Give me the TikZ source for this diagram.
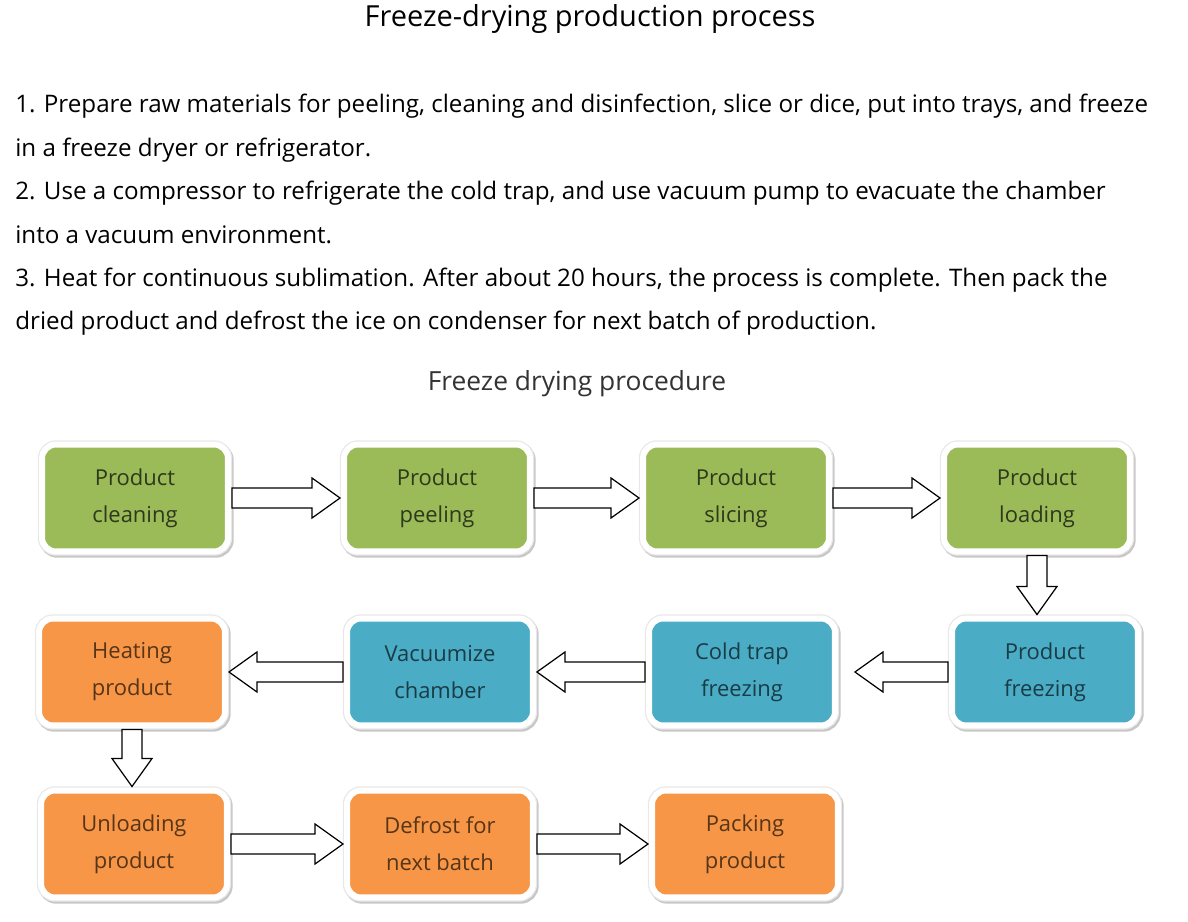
\documentclass[tikz,border=0pt]{standalone}
\usepackage{fontspec}
\setmainfont{Open Sans}
\usetikzlibrary{calc}

\definecolor{stepgreen}{HTML}{9BBB59}
\definecolor{stepblue}{HTML}{4BACC6}
\definecolor{steporange}{HTML}{F79646}

\begin{document}
\begin{tikzpicture}[
    x=0.02cm, y=-0.02cm,
    stage/.style={rounded corners=0.28cm, minimum width=3.72cm, minimum height=2.14cm,
        align=center, outer sep=0.08cm, draw=white, line width=0.12cm,
        font=\fontsize{12.5}{21}\selectfont,
        preaction={draw=black!22, line width=0.17cm, transform canvas={xshift=0.03cm, yshift=-0.04cm}},
        preaction={draw=black!9, line width=0.17cm}},
    greenstep/.style={stage, fill=stepgreen, text=stepgreen!30!black},
    bluestep/.style={stage, fill=stepblue, text=stepblue!35!black},
    orangestep/.style={stage, fill=steporange, text=steporange!35!black},
    blockarrow/.style={draw, fill=white, line width=0.7pt, line join=miter,
        to path={
            ($(\tikztostart)!0.2cm!90:(\tikztotarget)$)
            -- ($(\tikztotarget)!0.56cm!(\tikztostart)!0.2cm!90:(\tikztotarget)$)
            -- ($(\tikztotarget)!0.56cm!(\tikztostart)!0.4cm!90:(\tikztotarget)$)
            -- (\tikztotarget)
            -- ($(\tikztotarget)!0.56cm!(\tikztostart)!0.4cm!-90:(\tikztotarget)$)
            -- ($(\tikztotarget)!0.56cm!(\tikztostart)!0.2cm!-90:(\tikztotarget)$)
            -- ($(\tikztostart)!0.2cm!-90:(\tikztotarget)$) -- cycle}},
]
\useasboundingbox (0,0) rectangle (1188,922);

% Headings and description
\node (title) at (590,19) {\fontsize{16.5}{19}\selectfont Freeze-drying production process};
\node[anchor=north west, inner sep=0pt, align=left, font=\fontsize{13.75}{24.7}\selectfont] (desc) at (15,94)
    {1. Prepare raw materials for peeling, cleaning and disinfection, slice or dice, put into trays, and freeze\\
     in a freeze dryer or refrigerator.\\
     2. Use a compressor to refrigerate the cold trap, and use vacuum pump to evacuate the chamber\\
     into a vacuum environment.\\
     3. Heat for continuous sublimation. After about 20 hours, the process is complete. Then pack the\\
     dried product and defrost the ice on condenser for next batch of production.};
\node[text=black!80] (subtitle) at (577,384) {\fontsize{15}{18}\selectfont Freeze drying procedure};

% Row 1: preparation
\node[greenstep] (cleaning) at (135,498) {Product\\cleaning};
\node[greenstep] (peeling) at (437,498) {Product\\peeling};
\node[greenstep] (slicing) at (736,498) {Product\\slicing};
\node[greenstep] (loading) at (1037,498) {Product\\loading};

% Row 2: freezing and vacuum
\node[bluestep] (freezing) at (1045,672) {Product\\freezing};
\node[bluestep] (coldtrap) at (742,672) {Cold trap\\freezing};
\node[bluestep] (vacuum) at (440,672) {Vacuumize\\chamber};
\node[orangestep] (heating) at (132,672) {Heating\\product};

% Row 3: finishing
\node[orangestep] (unloading) at (134,844) {Unloading\\product};
\node[orangestep] (defrost) at (440,844) {Defrost for\\next batch};
\node[orangestep] (packing) at (745,844) {Packing\\product};

% Connectors
\draw[blockarrow] (cleaning.east) to (cleaning.east -| peeling.west);
\draw[blockarrow] (peeling.east) to (peeling.east -| slicing.west);
\draw[blockarrow] (slicing.east) to (slicing.east -| loading.west);
\draw[blockarrow] (loading.south) to (loading.south |- freezing.north);
\draw[blockarrow] (freezing.west) to ([xshift=0.32cm]coldtrap.east);
\draw[blockarrow] (coldtrap.west) to (coldtrap.west -| vacuum.east);
\draw[blockarrow] (vacuum.west) to (vacuum.west -| heating.east);
\draw[blockarrow] (heating.south) to (heating.south |- unloading.north);
\draw[blockarrow] (unloading.east) to (unloading.east -| defrost.west);
\draw[blockarrow] (defrost.east) to (defrost.east -| packing.west);

\end{tikzpicture}
\end{document}
